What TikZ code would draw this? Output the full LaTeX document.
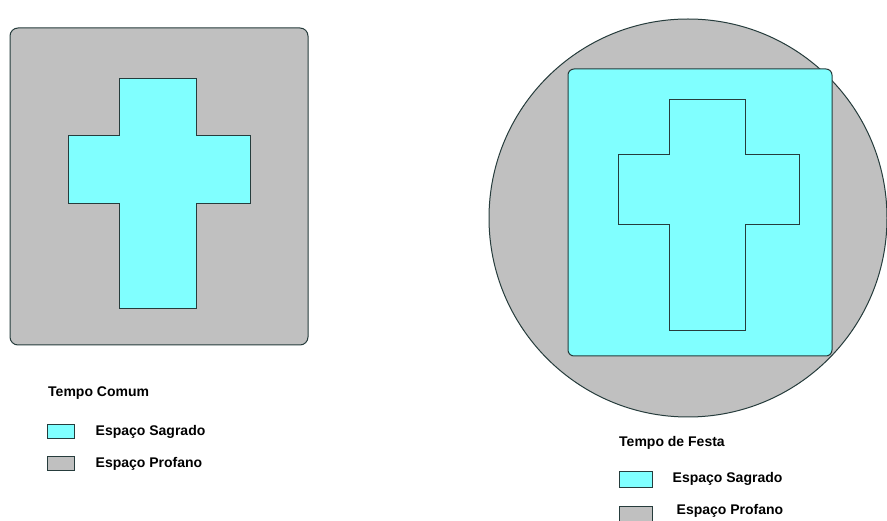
\documentclass[tikz,border=0pt]{standalone}
\usepackage{fontspec}
\setmainfont{Liberation Sans}
\usetikzlibrary{positioning}
\definecolor{sagrado}{HTML}{80FFFF}
\definecolor{profano}{HTML}{C0C0C0}
\definecolor{contorno}{HTML}{263C3C}

\begin{document}
\begin{tikzpicture}[x=1pt, y=-1pt, font=\bfseries\fontsize{14}{16}\selectfont,
  espaco/.style={draw=contorno, fill=#1, line width=1pt},
  swatch/.style={draw=contorno, fill=#1, line width=1pt, inner sep=0pt, minimum width=27pt, minimum height=14pt},
  bigswatch/.style={swatch=#1, minimum width=33pt, minimum height=16pt},
  legtext/.style={anchor=west, inner sep=0pt}
]
\useasboundingbox (0,0) rectangle (887,521);
% tempo comum
\draw[espaco=profano, rounded corners=8pt] (10,28) rectangle (308,345);
\draw[espaco=sagrado] (119,79) -- (196,79) -- (196,136) -- (250,136) -- (250,204) -- (196,204)
  -- (196,309) -- (119,309) -- (119,204) -- (68,204) -- (68,136) -- (119,136) -- cycle;
% tempo de festa
\draw[espaco=profano] (688,218) circle[radius=199pt];
\draw[espaco=sagrado, rounded corners=6pt] (568,69) rectangle (832,356);
\draw[espaco=sagrado] (669,100) -- (745,100) -- (745,155) -- (799,155) -- (799,225) -- (745,225)
  -- (745,331) -- (669,331) -- (669,225) -- (618,225) -- (618,155) -- (669,155) -- cycle;
% legenda esquerda
\node[legtext] (tc) at (48,393) {Tempo Comum};
\node[swatch=sagrado] (tcs) at (60.5,432) {};
\node[legtext, right=21pt of tcs.east] (tcst) {Espaço Sagrado};
\node[swatch=profano] (tcp) at (60.5,463.5) {};
\node[legtext, right=21pt of tcp.east] (tcpt) {Espaço Profano};
% legenda direita
\node[legtext] (tf) at (619,443) {Tempo de Festa};
\node[bigswatch=sagrado] (tfs) at (635.5,479) {};
\node[legtext, right=20pt of tfs.east] (tfst) {Espaço Sagrado};
\node[bigswatch=profano] (tfp) at (635.5,514) {};
\node[legtext, right=24pt of tfp.east, yshift=3pt] (tfpt) {Espaço Profano};
\end{tikzpicture}
\end{document}
